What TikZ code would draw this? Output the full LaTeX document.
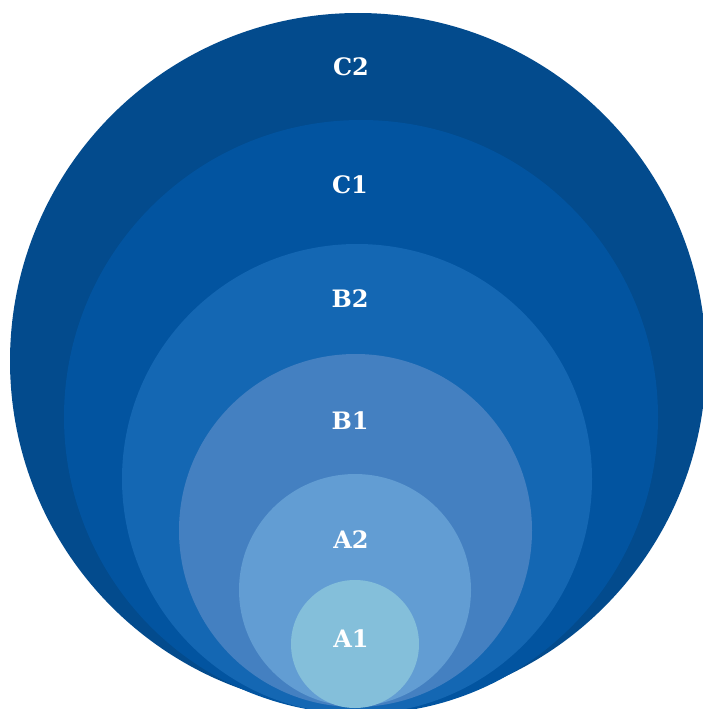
\documentclass[tikz,border=0pt]{standalone}
\usepackage{fontspec}
\newfontfamily\labelfont{DejaVu Serif}
\definecolor{cC2}{HTML}{034B8D}
\definecolor{cC1}{HTML}{0254A0}
\definecolor{cB2}{HTML}{1467B3}
\definecolor{cB1}{HTML}{4480C1}
\definecolor{cA2}{HTML}{629DD3}
\definecolor{cA1}{HTML}{84BFDA}
\tikzset{
  ring/.style={fill=#1, draw=none},
  lbl/.style={text=white, font=\labelfont\bfseries\fontsize{24}{24}\selectfont, inner sep=0pt}
}
\begin{document}
\begin{tikzpicture}[x=1pt,y=-1pt]
\useasboundingbox (0,0) rectangle (703,709);
\begin{scope}
\clip (0,0) rectangle (703,709);
\fill[ring=cC2] (358,361) circle (348);
\fill[ring=cC1] (361,417) circle (297);
\fill[ring=cB2] (357,479) circle (235);
\fill[ring=cB1] (355.5,530.5) circle (176.5);
\fill[ring=cA2] (355,590) circle (116);
\fill[ring=cA1] (355,644) circle (64);
\end{scope}
\node[lbl] (lC2) at (351,67) {C2};
\node[lbl] (lC1) at (350,185) {C1};
\node[lbl] (lB2) at (350,299) {B2};
\node[lbl] (lB1) at (350,421) {B1};
\node[lbl] (lA2) at (351,540) {A2};
\node[lbl] (lA1) at (351,639) {A1};
\end{tikzpicture}
\end{document}
